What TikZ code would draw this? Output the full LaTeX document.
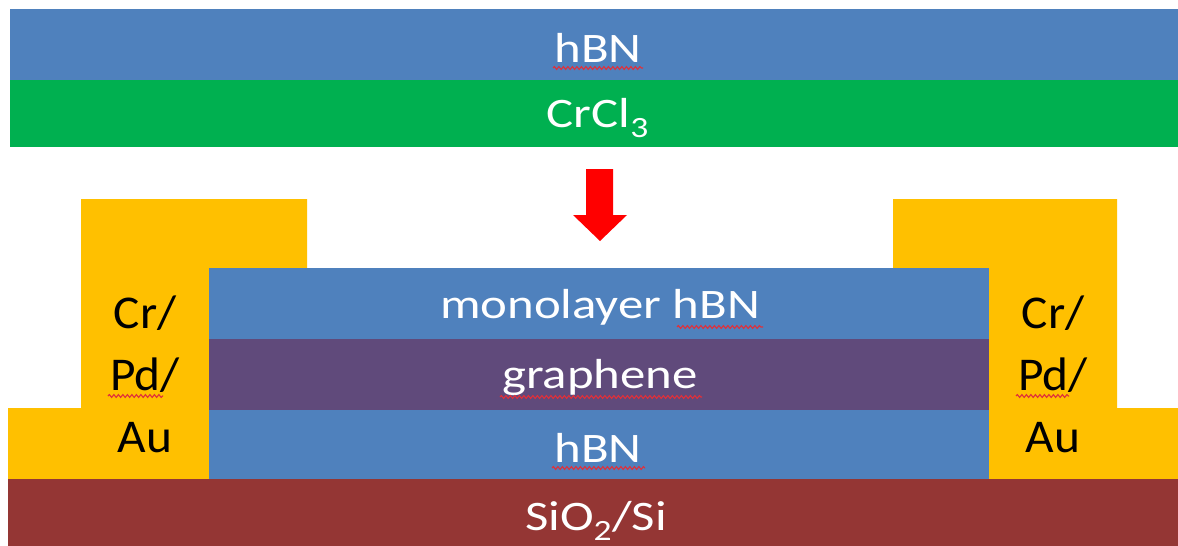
\documentclass[tikz,border=0pt]{standalone}
\usepackage{fontspec}
\usepackage{graphicx}
\setmainfont{Carlito}
\usetikzlibrary{decorations.pathmorphing}
\definecolor{hbn}{HTML}{4F81BD}
\definecolor{crcl}{HTML}{00B050}
\definecolor{gold}{HTML}{FFC000}
\definecolor{graph}{HTML}{604A7B}
\definecolor{sio}{HTML}{943634}
\definecolor{arrowred}{HTML}{FF0000}
\definecolor{spell}{HTML}{E0303A}
\newcommand{\laytext}[1]{\fontsize{42}{50}\selectfont\scalebox{1.21}[1]{#1}}
\newcommand{\context}[1]{\fontsize{47}{54}\selectfont\scalebox{1.05}[1]{#1}}
\tikzset{
  laylabel/.style={anchor=base, inner sep=0pt, text=white},
  conlabel/.style={anchor=base, inner sep=0pt, text=black},
  squiggle/.style={draw=spell, line width=1.1pt, decorate, decoration={snake, amplitude=1.4pt, segment length=4.5pt}}
}
\begin{document}
\begin{tikzpicture}[x=1pt,y=-1pt]
\useasboundingbox (0,0) rectangle (1178,546);
% top stack
\fill[hbn] (10,9) rectangle (1178,80);
\fill[crcl] (10,80) rectangle (1178,147);
% contacts
\fill[gold] (8,479) -- (8,408) -- (81,408) -- (81,199) -- (307,199) -- (307,479) -- cycle;
\fill[gold] (893,479) -- (893,199) -- (1117,199) -- (1117,408) -- (1178,408) -- (1178,479) -- cycle;
% substrate
\fill[sio] (8,479) rectangle (1178,546);
% device stack
\fill[hbn] (209,268) rectangle (989,339);
\fill[graph] (209,339) rectangle (989,410);
\fill[hbn] (209,410) rectangle (989,479);
% arrow
\fill[arrowred] (586,169) -- (613,169) -- (613,215) -- (627,215) -- (600,241) -- (573,215) -- (586,215) -- cycle;
% labels
\node[laylabel] (tophbnt) at (598,62) {\laytext{hBN}};
\node[laylabel] (crclt) at (598,127) {\laytext{CrCl\textsubscript{3}}};
\node[laylabel] (monot) at (600,318) {\laytext{monolayer hBN}};
\node[laylabel] (grapht) at (600,388) {\laytext{graphene}};
\node[laylabel] (bothbnt) at (598,462) {\laytext{hBN}};
\node[laylabel] (siot) at (596,530) {\laytext{SiO\textsubscript{2}/Si}};
\node[conlabel] (lcr) at (145,328) {\context{Cr/}};
\node[conlabel] (lpd) at (145,390) {\context{Pd/}};
\node[conlabel] (lau) at (145,452) {\context{Au}};
\node[conlabel] (rcr) at (1053,328) {\context{Cr/}};
\node[conlabel] (rpd) at (1053,390) {\context{Pd/}};
\node[conlabel] (rau) at (1053,452) {\context{Au}};
% spell-check marks
\draw[squiggle] (553,68) -- (643,68);
\draw[squiggle] (677,327) -- (763,327);
\draw[squiggle] (500,397) -- (702,397);
\draw[squiggle] (552,468) -- (645,468);
\draw[squiggle] (108,396) -- (163,396);
\draw[squiggle] (1016,396) -- (1069,396);
\end{tikzpicture}
\end{document}
